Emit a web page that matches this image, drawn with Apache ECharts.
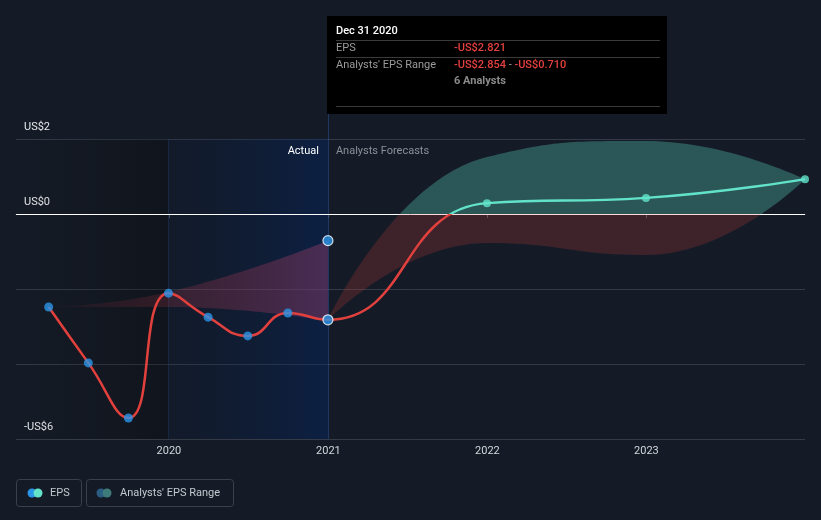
<!DOCTYPE html>
<html><head><meta charset="utf-8">
<script src="https://cdn.jsdelivr.net/npm/echarts@6/dist/echarts.min.js"></script>
<style>html,body{margin:0;padding:0;background:#151b26;}#c{width:821px;height:520px;}</style>
</head><body><div id="c"></div>
<script>
// ---- data ----
const actualDates = ['2019-03-31','2019-06-30','2019-09-30','2019-12-31','2020-03-31','2020-06-30','2020-09-30','2020-12-31'];
const actualEps = [-2.48,-3.97,-5.44,-2.11,-2.75,-3.25,-2.64,-2.821];
const pastRangeDates = ['2019-03-31','2019-12-31','2020-12-31'];
const pastRangeLow = [-2.48,-2.48,-2.854];
const pastRangeHigh = [-2.48,-2.08,-0.710];
const forecastDates = ['2021-12-31','2022-12-31','2023-12-31'];
const forecastEps = [0.29,0.43,0.93];
const forecastLow = [-0.77,-1.09,0.93];
const forecastHigh = [1.52,1.95,0.93];
const analystsCount = 6;
const yTickValues = [2,0,-6];
const yTickLabels = ['US$2','US$0','-US$6'];
const xTickYears = [2020,2021,2022,2023];
const xTickLabels = ['2020','2021','2022','2023'];

// ---- helpers ----
function toTs(s){const p=s.split('-').map(Number);return Date.UTC(p[0],p[1]-1,p[2]);}
const fmt=v=>(v<0?'-US$':'US$')+Math.abs(v).toFixed(3);
const MONTHS=['Jan','Feb','Mar','Apr','May','Jun','Jul','Aug','Sep','Oct','Nov','Dec'];
function fmtDate(s){const p=s.split('-').map(Number);return MONTHS[p[1]-1]+' '+p[2]+' '+p[0];}

const X_MIN=toTs('2019-01-15'), X_MAX=toTs('2023-12-31');
const ONE_YEAR=365*24*3600*1000;
const actualX=actualDates.map(toTs);
const pastX=pastRangeDates.map(toTs);
const forecastX=forecastDates.map(toTs);
const nA=actualX.length;
const lastX=actualX[nA-1], lastEps=actualEps[nA-1];
const epsData=actualX.map((x,i)=>[x,actualEps[i]]).concat(forecastX.map((x,i)=>[x,forecastEps[i]]));
const fcX=[lastX].concat(forecastX);
const fcLowAll=[lastEps].concat(forecastLow);
const fcHighAll=[lastEps].concat(forecastHigh);
const boundary2020=toTs('2019-12-31');

const RED='#e2403d', TEAL='#62e3c9', BLUE='#2a95e8';
const FONT='Roboto';
const LG=echarts.graphic.LinearGradient;

const chart=echarts.init(document.getElementById('c'),null,{renderer:'canvas'});
const option={
  backgroundColor:'#151b26',
  animation:false,
  textStyle:{fontFamily:FONT},
  grid:{left:16,right:16,top:139,bottom:81},
  xAxis:{type:'time',min:X_MIN,max:X_MAX,minInterval:ONE_YEAR,splitNumber:5,
    splitLine:{show:false},
    axisLine:{show:true,lineStyle:{color:'#505662',width:1}},
    axisTick:{show:true,length:4,lineStyle:{color:'#505662'}},
    minorTick:{show:false},
    axisLabel:{formatter:v=>{const d=new Date(v);const y=d.getMonth()===11&&d.getDate()>25?d.getFullYear()+1:d.getFullYear();const i=xTickYears.indexOf(y);return i>=0?xTickLabels[i]:'';},
      color:'#d3d6db',fontSize:11,margin:7,fontFamily:FONT,hideOverlap:false}},
  yAxis:{type:'value',min:-6,max:2,interval:2,
    axisLine:{show:false},axisTick:{show:false},
    splitLine:{show:true,lineStyle:{color:'#343a46',width:1}},
    axisLabel:{inside:true,margin:8,verticalAlign:'bottom',padding:[0,0,6,0],color:'#e6e8ec',fontSize:11,fontFamily:FONT,
      formatter:v=>{const i=yTickValues.indexOf(v);return i>=0?yTickLabels[i]:'';}}},
  visualMap:[
    {type:'piecewise',show:false,dimension:1,seriesIndex:[3],
     pieces:[{gt:-100,lte:0,color:'rgba(226,64,61,0.2)'},{gt:0,lte:100,color:'rgba(94,224,200,0.3)'}]},
    {type:'piecewise',show:false,dimension:1,seriesIndex:[4],
     pieces:[{gt:-100,lte:0,color:RED},{gt:0,lte:100,color:TEAL}]}
  ],
  series:[
    {name:'pastLow',type:'line',stack:'past',stackStrategy:'all',z:4,silent:true,symbol:'none',smooth:0.5,
     data:pastX.map((x,i)=>[x,pastRangeLow[i]]),lineStyle:{opacity:0,width:0},
     markArea:{silent:true,label:{show:false},data:[
       [{xAxis:X_MIN,itemStyle:{color:new LG(0,0,1,0,[{offset:0,color:'rgba(0,0,0,0)'},{offset:1,color:'rgba(0,0,0,0.25)'}])}},{xAxis:boundary2020}],
       [{xAxis:boundary2020,itemStyle:{color:new LG(0,0,1,0,[{offset:0,color:'rgba(0,25,70,0.12)'},{offset:1,color:'rgba(0,40,110,0.4)'}])}},{xAxis:lastX}]
     ]}},
    {name:'pastDiff',type:'line',stack:'past',stackStrategy:'all',z:4,silent:true,symbol:'none',smooth:0.5,
     data:pastX.map((x,i)=>[x,pastRangeHigh[i]-pastRangeLow[i]]),lineStyle:{opacity:0,width:0},
     areaStyle:{opacity:1,color:new LG(0,0,1,0,[{offset:0,color:'rgba(200,55,70,0.04)'},{offset:0.45,color:'rgba(200,60,80,0.2)'},{offset:1,color:'rgba(190,70,120,0.34)'}])}},
    {name:'fcLow',type:'line',stack:'fc',stackStrategy:'all',z:4,silent:true,symbol:'none',smooth:0.5,
     data:fcX.map((x,i)=>[x,fcLowAll[i]]),lineStyle:{opacity:0,width:0}},
    {name:"Analysts' EPS Range",type:'line',stack:'fc',stackStrategy:'all',z:4,silent:true,symbol:'none',smooth:0.5,
     data:fcX.map((x,i)=>[x,fcHighAll[i]-fcLowAll[i]]),lineStyle:{opacity:0,width:0},
     areaStyle:{opacity:1}},
    {name:'EPS',type:'line',z:5,silent:true,symbol:'none',smooth:0.5,data:epsData,
     lineStyle:{width:2.5}},
    {name:'actualPts',type:'scatter',z:6,silent:true,symbolSize:9,
     data:actualX.slice(0,nA-1).map((x,i)=>[x,actualEps[i]]),itemStyle:{color:BLUE}},
    {name:'fcPts',type:'scatter',z:6,silent:true,symbolSize:8,
     data:forecastX.map((x,i)=>[x,forecastEps[i]]),itemStyle:{color:TEAL}},
    {name:'hlPts',type:'scatter',z:7,silent:true,symbolSize:10,
     data:[[lastX,lastEps],[lastX,pastRangeHigh[pastRangeHigh.length-1]]],
     itemStyle:{color:BLUE,borderColor:'#ffffff',borderWidth:1.2}}
  ]
};
chart.setOption(option);

// ---- overlay graphics ----
const px=v=>Math.round(v)+0.5;
const x2020=chart.convertToPixel({xAxisIndex:0},boundary2020);
const x2021=chart.convertToPixel({xAxisIndex:0},lastX);
const xL=chart.convertToPixel({xAxisIndex:0},X_MIN);
const xR=chart.convertToPixel({xAxisIndex:0},X_MAX);
const yTop=chart.convertToPixel({yAxisIndex:0},2);
const yBot=chart.convertToPixel({yAxisIndex:0},-6);
const yZero=chart.convertToPixel({yAxisIndex:0},0);
const tipX=327,tipY=16,tipW=340,tipH=98;
const t=(x,y,text,fill,weight,align)=>({type:'text',z:20,x:x,y:y,style:{text:text,fill:fill,font:(weight||'normal')+' 11px '+FONT,textAlign:align||'left',textVerticalAlign:'middle'}});
const hl=(y)=>({type:'line',z:20,shape:{x1:tipX+9,y1:y,x2:tipX+333,y2:y},style:{stroke:'#3a3a3a',lineWidth:1}});
const lastRangeLow=pastRangeLow[pastRangeLow.length-1], lastRangeHigh=pastRangeHigh[pastRangeHigh.length-1];
const graphics=[
  {type:'line',z:3,silent:true,shape:{x1:xL,y1:px(yZero),x2:xR,y2:px(yZero)},style:{stroke:'#ffffff',lineWidth:1}},
  {type:'line',z:2,shape:{x1:px(x2020),y1:yTop,x2:px(x2020),y2:yBot},style:{stroke:'rgba(35,70,130,0.32)',lineWidth:1}},
  {type:'line',z:2,shape:{x1:px(x2021),y1:tipY+tipH,x2:px(x2021),y2:yBot},style:{stroke:'rgba(40,80,150,0.55)',lineWidth:1}},
  {type:'text',z:10,x:x2021-9,y:151,style:{text:'Actual',fill:'#ffffff',font:'11px '+FONT,textAlign:'right',textVerticalAlign:'middle'}},
  {type:'text',z:10,x:x2021+8,y:151,style:{text:'Analysts Forecasts',fill:'#8c9099',font:'11px '+FONT,textAlign:'left',textVerticalAlign:'middle'}},
  // tooltip box
  {type:'rect',z:19,shape:{x:tipX,y:tipY,width:tipW,height:tipH},style:{fill:'#000000'}},
  t(tipX+9,31,fmtDate(actualDates[nA-1]),'#ffffff','500'),
  hl(40.5),
  t(tipX+9,48,'EPS','#9b9b9b'),
  t(tipX+127,48,fmt(lastEps),'#e5413e','500'),
  hl(57.5),
  t(tipX+9,65,"Analysts' EPS Range",'#9b9b9b'),
  {type:'text',z:20,x:tipX+127,y:65,style:{text:'{r|'+fmt(lastRangeLow)+'}{g| - }{r|'+fmt(lastRangeHigh)+'}',
    rich:{r:{fill:'#e5413e',font:'500 11px '+FONT},g:{fill:'#9b9b9b',font:'11px '+FONT}},textAlign:'left',textVerticalAlign:'middle'}},
  t(tipX+127,81,analystsCount+' Analysts','#8a8a8a','bold'),
  hl(106.5),
  // legend
  {type:'rect',z:10,shape:{x:16.5,y:479.5,width:65,height:27,r:3},style:{fill:'none',stroke:'#3a414d',lineWidth:1}},
  {type:'circle',z:10,shape:{cx:32,cy:493,r:4.5},style:{fill:BLUE}},
  {type:'circle',z:11,shape:{cx:38,cy:493,r:4.5},style:{fill:TEAL}},
  {type:'text',z:10,x:50,y:493,style:{text:'EPS',fill:'#c4c8cf',font:'11px '+FONT,textVerticalAlign:'middle'}},
  {type:'rect',z:10,shape:{x:86.5,y:479.5,width:147,height:27,r:3},style:{fill:'none',stroke:'#3a414d',lineWidth:1}},
  {type:'circle',z:10,shape:{cx:101,cy:493,r:4.5},style:{fill:'#2a5d82'}},
  {type:'circle',z:11,shape:{cx:107,cy:493,r:4.5},style:{fill:'#3d7c7a'}},
  {type:'text',z:10,x:120,y:493,style:{text:"Analysts' EPS Range",fill:'#c4c8cf',font:'11px '+FONT,textVerticalAlign:'middle'}}
];
chart.setOption({graphic:graphics});
</script></body></html>
